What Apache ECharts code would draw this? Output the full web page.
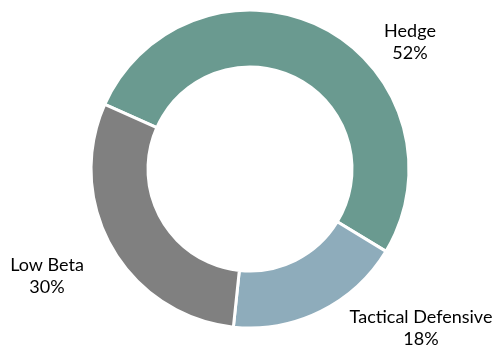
<!DOCTYPE html>
<html>
<head>
<meta charset="utf-8">
<script src="https://cdn.jsdelivr.net/npm/echarts@6/dist/echarts.min.js"></script>
<style>html,body{margin:0;padding:0;background:#fff}#c{width:497px;height:352px}</style>
</head>
<body>
<div id="c"></div>
<script>
var categories = ['Hedge', 'Tactical Defensive', 'Low Beta'];
var values = [52, 18, 30];
var colors = ['#6a9a90', '#8eacbb', '#808080'];
var labelAnchors = [[410, 42], [421, 328], [47, 276]];

var chart = echarts.init(document.getElementById('c'), null, {renderer: 'canvas'});
chart.setOption({
  animation: false,
  backgroundColor: '#ffffff',
  series: [{
    type: 'pie',
    center: [250, 169],
    radius: [102, 159],
    startAngle: 156,
    clockwise: true,
    avoidLabelOverlap: false,
    data: categories.map(function (c, i) {
      return {name: c, value: values[i], itemStyle: {color: colors[i]}};
    }),
    itemStyle: {borderColor: '#ffffff', borderWidth: 3},
    label: {
      show: true,
      position: 'outside',
      formatter: function (p) { return p.name + '\n' + Math.round(p.percent) + '%'; },
      fontFamily: 'Lato',
      fontSize: 18,
      lineHeight: 22,
      color: '#000000'
    },
    labelLine: {show: false},
    labelLayout: function (p) {
      var a = labelAnchors[p.dataIndex];
      return {x: a[0], y: a[1], align: 'center', verticalAlign: 'middle'};
    },
    emphasis: {disabled: true}
  }]
});
</script>
</body>
</html>
